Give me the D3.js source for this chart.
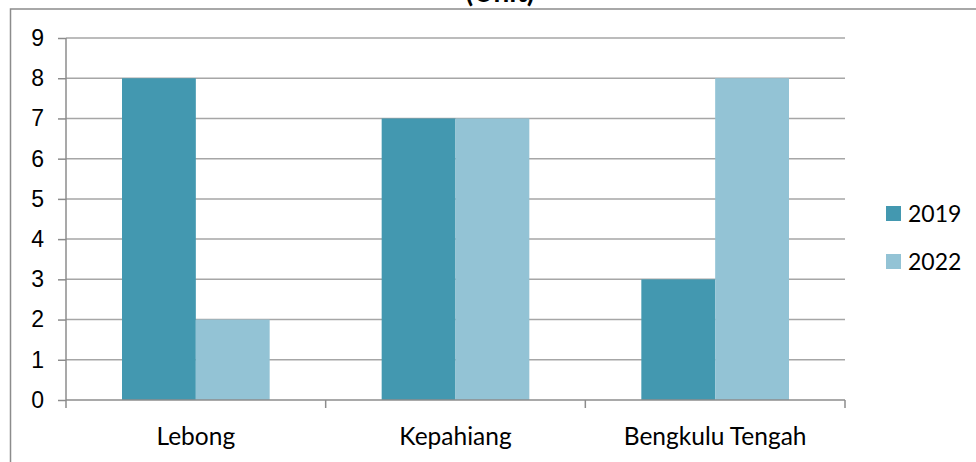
<!DOCTYPE html>
<html>
<head>
<meta charset="utf-8">
<script src="https://cdn.jsdelivr.net/npm/d3@7"></script>
<style>
  body { margin: 0; background: #fff; }
  svg { display: block; font-family: Lato, "Open Sans", sans-serif; }
  .grid line { stroke: #a6a6a6; stroke-width: 1.5; }
  .axis path, .axis line { stroke: #8c8c8c; stroke-width: 1.5; }
  .axis text { fill: #000; font-size: 23px; }
  .axis text.cat { font-size: 24.5px; }
</style>
</head>
<body>
<svg width="976" height="462"></svg>
<script>
var categories = ["Lebong", "Kepahiang", "Bengkulu Tengah"];
var seriesNames = ["2019", "2022"];
var values2019 = [8, 7, 3];
var values2022 = [2, 7, 8];
var yTicks = [0, 1, 2, 3, 4, 5, 6, 7, 8, 9];
var colors = ["#4398b0", "#93c3d5"];

var svg = d3.select("svg");
var margin = {top: 38, right: 131, bottom: 62, left: 66},
    width = 976 - margin.left - margin.right,
    height = 462 - margin.top - margin.bottom;

// outer chart border (runs off right and bottom)
svg.append("rect")
  .attr("x", 10.5).attr("y", 9)
  .attr("width", 1000).attr("height", 500)
  .attr("fill", "none")
  .attr("stroke", "#8c8c8c")
  .attr("stroke-width", 1.5);

// title, cut off at the top like the source image
svg.append("text")
  .attr("x", 500).attr("y", 2)
  .attr("text-anchor", "middle")
  .style("font-size", "28px")
  .style("font-weight", "bold")
  .text("(Unit)");

var g = svg.append("g")
  .attr("transform", "translate(" + margin.left + "," + margin.top + ")");

var x0 = d3.scaleBand().domain(categories).range([0, width]).paddingInner(0).paddingOuter(0);
var x1 = d3.scaleBand().domain(seriesNames).range([56, x0.bandwidth() - 56]);
var y = d3.scaleLinear().domain([0, 9]).range([height, 0]);

g.append("g").attr("class", "grid")
  .selectAll("line").data(yTicks.slice(1)).join("line")
  .attr("x1", 0).attr("x2", width)
  .attr("y1", d => y(d)).attr("y2", d => y(d));

var data = categories.map(function(c, i) {
  return {cat: c, vals: [values2019[i], values2022[i]]};
});

var groups = g.selectAll(".grp").data(data).join("g")
  .attr("class", "grp")
  .attr("transform", d => "translate(" + x0(d.cat) + ",0)");

groups.selectAll("rect")
  .data(d => d.vals.map((v, i) => ({key: seriesNames[i], v: v, i: i})))
  .join("rect")
  .attr("x", d => x1(d.key))
  .attr("width", x1.bandwidth())
  .attr("y", d => y(d.v))
  .attr("height", d => height - y(d.v))
  .attr("fill", d => colors[d.i]);

// y axis
var yAxis = g.append("g").attr("class", "axis")
  .call(d3.axisLeft(y).tickValues(yTicks).tickSize(8).tickSizeOuter(0).tickPadding(14));
yAxis.select(".domain").attr("d", "M0," + height + "V0");

// x axis with ticks at band boundaries
var xAxis = g.append("g").attr("class", "axis")
  .attr("transform", "translate(0," + height + ")");
xAxis.append("line").attr("x1", 0).attr("x2", width).attr("y1", 0).attr("y2", 0);
var bounds = categories.map(c => x0(c)).concat([width]);
xAxis.selectAll(".tk").data(bounds).join("line")
  .attr("class", "tk")
  .attr("x1", d => d).attr("x2", d => d)
  .attr("y1", 0).attr("y2", 8);
xAxis.selectAll("text").data(categories).join("text")
  .attr("class", "cat")
  .attr("x", d => x0(d) + x0.bandwidth() / 2)
  .attr("y", 45)
  .attr("text-anchor", "middle")
  .text(d => d);

// legend
var legend = svg.append("g").attr("transform", "translate(886,206)");
seriesNames.forEach(function(s, i) {
  var row = legend.append("g").attr("transform", "translate(0," + i * 48 + ")");
  row.append("rect").attr("width", 15).attr("height", 15).attr("fill", colors[i]);
  row.append("text").attr("x", 22).attr("y", 16)
    .style("font-size", "23px").attr("fill", "#000").text(s);
});
</script>
</body>
</html>
